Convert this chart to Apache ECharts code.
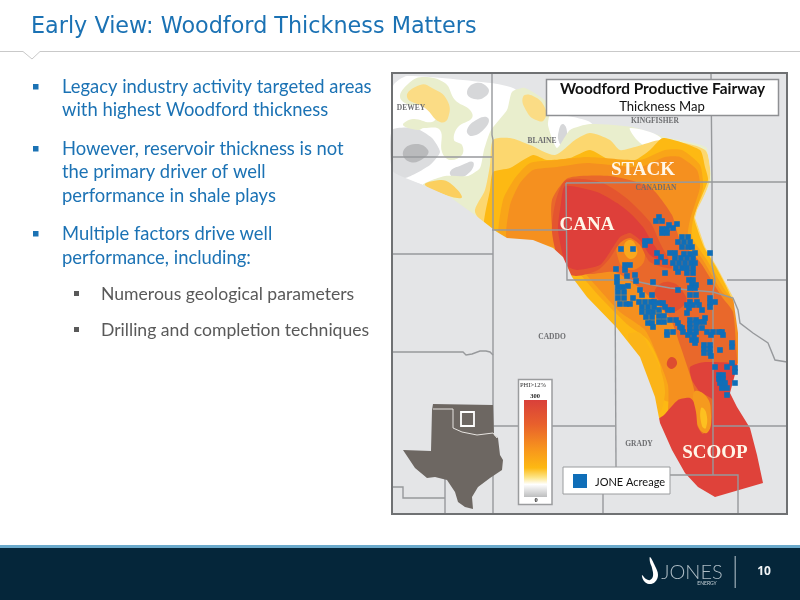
<!DOCTYPE html>
<html>
<head>
<meta charset="utf-8">
<style>html,body{margin:0;padding:0;background:#fff}#main{width:800px;height:600px}</style>
<script src="https://cdn.jsdelivr.net/npm/echarts@6/dist/echarts.min.js"></script>
</head>
<body>
<div id="main"></div>
<script>
// slide text
var titleText = 'Early View: Woodford Thickness Matters';
var bodyLines = ['Legacy industry activity targeted areas', 'with highest Woodford thickness', 'However, reservoir thickness is not', 'the primary driver of well', 'performance in shale plays', 'Multiple factors drive well', 'performance, including:'];
var subLines = ['Numerous geological parameters', 'Drilling and completion techniques'];

// map bands, outer to inner (map coordinates)
var mapFrame = [[392,73],[787,73],[787,514],[392,514]];
var grayWest = [[392,130],[415,128],[432,138],[440,152],[430,165],[405,178],[392,170]];
var white = [[393,86],[407,76],[491,83],[513,88],[547,112],[573,117],[590,122],[600,135],[580,200],[520,225],[497,232],[475,215],[450,197],[423,185],[403,177],[393,158]];
var grayPatchA = [[467,92],[476,83],[488,88],[486,96],[474,99]];
var grayPatchB = [[467,130],[478,119],[488,118],[486,127],[472,136]];
var grayPatchC = [[450,172],[462,165],[473,162],[470,172],[456,178]];
var grayPatchD = [[559,130],[563,124],[567,132],[564,146],[559,142]];
var grayPatchE = [[403,152],[415,144],[428,150],[424,158],[410,162]];
var greenWest = [[400,97],[408,84],[422,77],[445,83],[455,100],[470,110],[472,118],[458,127],[454,140],[462,145],[462,155],[450,160],[442,152],[440,130],[424,128],[418,130],[403,125],[413,119],[432,122],[438,112],[425,104],[410,105]];
var greenMain = [[423,185],[445,176],[468,176],[480,168],[484,150],[491,130],[507,110],[512,92],[525,88],[550,105],[548,125],[557,148],[570,130],[590,124],[632,127],[664,137],[707,148],[715,180],[705,210],[700,218],[712,247],[725,267],[740,297],[745,333],[745,363],[740,393],[745,407],[755,428],[770,483],[715,505],[680,480],[650,423],[648,397],[630,357],[610,328],[580,297],[565,277],[555,257],[545,248],[533,243],[507,243],[497,236],[475,218],[450,200]];
var whiteHole = [[630,128],[660,137],[662,157],[650,150],[637,140]];
var lightWest = [[407,97],[420,85],[432,88],[447,100],[448,118],[440,122],[425,108]];
var lightNorth = [[523,97],[533,96],[545,108],[544,120],[536,120],[527,112]];
var lightSouth = [[425,185],[440,180],[450,183],[462,197],[452,197]];
var lightYellow = [[475,212],[485,190],[490,165],[493,140],[510,138],[530,145],[555,155],[575,140],[590,133],[610,140],[620,150],[635,147],[662,140],[705,150],[710,178],[699,210],[698,218],[708,247],[720,267],[735,297],[741,333],[741,363],[735,393],[741,407],[751,428],[765,483],[715,503],[682,478],[654,423],[650,397],[634,357],[612,328],[582,297],[566,277],[557,257],[547,248],[533,243],[507,241],[497,236]];
var yellow = [[484,226],[490,190],[493,172],[510,168],[533,155],[547,160],[570,158],[590,150],[610,160],[635,160],[650,150],[663,138],[700,150],[705,167],[708,180],[696,210],[694,218],[704,247],[716,267],[731,297],[737,333],[738,363],[731,393],[738,407],[749,428],[762,483],[715,500],[684,476],[656,423],[652,397],[636,357],[614,328],[584,297],[568,277],[558,257],[548,250],[533,244],[507,242],[497,236]];
var amber = [[500,240],[503,200],[515,178],[530,163],[557,160],[587,157],[640,160],[665,150],[682,150],[700,165],[703,187],[693,220],[692,237],[707,260],[727,293],[736,303],[737,345],[690,400],[664,400],[660,365],[648,340],[628,325],[600,297],[578,272],[552,249]];
var orange = [[507,240],[510,205],[520,183],[533,170],[557,167],[587,163],[640,167],[665,157],[680,157],[697,170],[700,187],[690,220],[688,237],[703,260],[723,293],[736,303],[740,345],[740,365],[734,392],[740,407],[752,428],[768,483],[715,503],[682,478],[664,428],[668,410],[668,385],[657,355],[645,330],[620,312],[598,288],[582,270],[566,254],[553,247],[533,242]];
var redOrange = [[553,232],[552,200],[568,178],[610,176],[650,187],[672,215],[680,240],[700,262],[722,297],[733,312],[736,345],[737,365],[732,392],[740,407],[752,428],[770,483],[715,505],[680,480],[670,440],[690,425],[695,395],[690,375],[680,345],[670,318],[640,288],[615,272],[590,274],[570,270]];
var redHalo = [[556,200],[566,180],[600,182],[625,197],[650,222],[660,243],[672,268],[650,262],[640,245],[630,238],[620,243],[610,258],[598,270],[576,276],[562,270],[552,232]];
var red = [[565,186],[597,192],[617,203],[630,213],[643,227],[652,242],[665,262],[650,255],[640,240],[630,233],[620,237],[610,252],[600,265],[577,270],[566,265],[558,230],[561,203]];
var orangeBump = [[618,242],[628,234],[638,240],[645,255],[638,268],[625,268],[618,258]];
var yellowBump = [[624,246],[630,240],[636,246],[636,256],[628,258]];
var redMid = [[655,290],[670,282],[685,295],[684,305],[668,312],[660,302]];
var yellowStrip = [[640,333],[648,345],[660,368],[665,392],[660,412],[652,397],[636,357],[628,335]];
var redEast = [[690,367],[705,362],[738,365],[740,392],[742,407],[755,428],[772,490],[715,506],[680,480],[652,425],[664,415],[678,400],[690,398],[698,408],[697,425],[703,434],[711,422],[713,400],[700,392],[692,380]];
var flare = [[694,392],[706,396],[711,415],[708,432],[700,430],[696,412]];
var flareCore = [[701,408],[706,412],[706,428],[702,426]];
var redSpot = [[667,362],[672,357],[677,362],[674,368],[669,368]];
// map background again, outside the fairway edge
var maskSouth = [[392,172],[403,177],[423,185],[450,197],[475,215],[497,232],[507,238],[533,240],[553,248],[563,257],[572,277],[587,297],[617,328],[640,357],[655,397],[660,423],[672,450],[685,473],[698,487],[715,497],[715,514],[392,514]];
var maskEast = [[707,148],[712,180],[697,210],[695,218],[705,247],[717,267],[733,297],[738,333],[738,363],[730,393],[737,407],[750,428],[757,455],[763,483],[715,497],[715,514],[787,514],[787,148]];

// blue JONE acreage cells (map coordinates)
var acreageCells = [[659,217],[656,221],[662,221],[669,225],[677,224],[662,229],[667,229],[673,228],[662,233],[667,233],[645,241],[650,241],[645,245],[621,249],[633,249],
[682,237],[688,237],[678,242],[684,242],[690,242],[682,247],[688,247],[692,247],[657,253],[670,253],[675,253],[684,254],[690,254],[695,253],[710,253],
[661,257],[675,258],[681,258],[687,258],[693,258],[657,262],[665,262],[673,263],[679,263],[685,263],[691,263],[695,263],[676,268],[682,268],[687,268],[693,268],[616,269],[625,265],[630,265],
[665,273],[678,272],[687,273],[693,273],[617,277],[625,270],[627,276],[635,275],[636,281],[617,282],[653,282],[689,280],[693,280],[710,282],
[618,287],[623,287],[628,286],[640,290],[678,290],[692,285],[696,285],[690,288],[695,288],[618,292],[624,292],[642,295],[652,295],[690,295],[696,295],[710,298],
[618,298],[624,298],[633,298],[639,302],[645,302],[651,302],[654,302],[690,302],[697,302],[710,303],[715,302],[620,304],[626,304],[630,304],[642,307],[648,307],[654,307],[659,303],[663,303],[665,307],[687,305],[693,305],[699,305],[710,307],
[642,312],[648,312],[653,312],[659,310],[668,310],[672,310],[687,313],[702,310],[689,308],[646,317],[652,317],[659,316],[664,316],[690,320],[696,320],[705,318],[670,320],[676,320],
[648,323],[652,323],[659,322],[664,322],[678,323],[690,324],[699,322],[704,322],[653,327],[682,328],[690,328],[696,328],[702,328],[667,332],[673,332],[707,332],[713,332],[719,332],
[680,327],[696,323],[690,332],[696,332],[667,335],[683,332],[688,335],[694,335],[692,340],[696,340],[695,343],[711,335],[722,332],[723,335],[704,345],[710,345],[732,343],[704,349],[710,349],[720,350],[732,347],[704,353],[710,353],[711,356],
[715,367],[732,363],[727,367],[735,368],[735,372],[719,375],[723,375],[719,379],[723,379],[735,383],[720,383],[725,383],[722,388],[727,388],[727,395]];

// county lines and river
var countyLines = [
  [[492,73],[492,135],[493,140],[493,514]],
  [[392,157],[492,157]],
  [[392,254],[493,254]],
  [[392,352],[463,352],[466,355],[472,354],[480,351],[486,351],[490,352],[493,355]],
  [[492,230],[567,230]],
  [[566,183],[711,182],[787,182]],
  [[566,183],[567,280],[615,280],[630,280]],
  [[711,73],[712,182],[712,265],[715,280],[713,292],[713,475]],
  [[727,280],[787,280]],
  [[630,280],[653,285],[670,288],[690,290],[713,292],[733,298],[738,310],[740,323],[753,333],[768,343],[775,360],[787,362]],
  [[615,280],[616,467]],
  [[493,426],[615,426]],
  [[713,426],[787,426]],
  [[616,475],[738,475],[738,514]],
  [[603,494],[603,514]],
  [[445,467],[445,514]],
  [[392,487],[403,487],[403,498],[445,498]]
];

var texas = [[433,404],[493,405],[494,435],[498,438],[500,455],[503,460],[502,470],[490,478],[478,487],[472,497],[473,509],[465,507],[458,502],[455,492],[447,480],[435,477],[427,478],[415,468],[403,450],[431,451],[432,410]];
var oklahomaBorder = [[433,409],[453,409],[453,428],[462,432],[477,435],[493,433],[497,438]];
var logoHook = [[650,557],[655,566],[658,575],[655,582],[649,584],[644,581],[642,575],[646,579],[650,580],[653,576],[652,568],[650,562]];

var countyNames = ['DEWEY', 'BLAINE', 'KINGFISHER', 'CANADIAN', 'CADDO', 'GRADY'];
var playNames = ['STACK', 'CANA', 'SCOOP'];

var MAPBG = '#e4e5e7';
var bands = [
  [mapFrame, MAPBG, 0], [white, '#ffffff', 0.2], [grayWest, '#dcdddf', 0.2],
  [grayPatchA, '#d6d7d9', 0.5], [grayPatchB, '#d6d7d9', 0.5], [grayPatchC, '#d6d7d9', 0.5], [grayPatchD, '#d6d7d9', 0.5], [grayPatchE, '#b9babc', 0.5],
  [greenMain, '#e9eecd', 0.2], [greenWest, '#e9eecd', 0.4], [whiteHole, '#ffffff', 0.3],
  [lightWest, '#fbdc85', 0.5], [lightNorth, '#fbdc85', 0.5], [lightSouth, '#fbcf5e', 0.4],
  [lightYellow, '#fcd76f', 0.25], [yellow, '#fdb913', 0.2], [amber, '#f9a518', 0.2], [orange, '#f5901f', 0.2],
  [yellowStrip, '#fbb418', 0.3], [redOrange, '#e9682b', 0.2], [orangeBump, '#f2811f', 0.5], [yellowBump, '#f9a81d', 0.5],
  [redMid, '#e2502f', 0.5], [redHalo, '#e4552f', 0.25], [red, '#de3f3a', 0.2], [redEast, '#df423a', 0.2],
  [flare, '#f59a1e', 0.5], [flareCore, '#fdc020', 0.5], [redSpot, '#dd4c30', 0.5],
  [maskSouth, MAPBG, 0], [maskEast, MAPBG, 0]
];

function renderBand(params, api) {
  var band = bands[api.value(0)];
  var pts = band[0].map(function (p) { return api.coord(p); });
  return {
    type: 'polygon',
    shape: { points: pts, smooth: band[2] },
    style: { fill: band[1] },
    silent: true
  };
}
function renderLine(params, api) {
  var pts = countyLines[api.value(0)].map(function (p) { return api.coord(p); });
  return {
    type: 'polyline',
    shape: { points: pts },
    style: { fill: null, stroke: '#97999c', lineWidth: 1.4 },
    silent: true
  };
}
function renderState(params, api) {
  return {
    type: 'group',
    children: [{
      type: 'polygon',
      shape: { points: texas.map(function (p) { return api.coord(p); }) },
      style: { fill: '#6d6762' }
    }, {
      type: 'polyline',
      shape: { points: oklahomaBorder.map(function (p) { return api.coord(p); }) },
      style: { fill: null, stroke: '#e6e3df', lineWidth: 1 }
    }, {
      type: 'rect',
      shape: { x: api.coord([461, 412])[0], y: api.coord([461, 412])[1], width: 13, height: 14 },
      style: { fill: null, stroke: '#fff', lineWidth: 1.8 }
    }]
  };
}

function txt(x, y, text, font, color, align) {
  return { type: 'text', z: 20, x: x, y: y, style: { text: text, font: font, fill: color, align: align || 'left', verticalAlign: 'middle' }, silent: true };
}
function box(x, y, w, h, fill, stroke, lw) {
  return { type: 'rect', z: 10, shape: { x: x, y: y, width: w, height: h }, style: { fill: fill, stroke: stroke, lineWidth: lw || 0 }, silent: true };
}

var BLUE = '#1b72b4';
var bodyY = [87, 110, 149, 172, 196, 234, 258];
var subY = [294, 330];
var countyX = [411, 542, 655, 656, 552, 639];
var countyY = [108, 141, 121, 188, 337, 444];
var playX = [643, 587, 715];
var playY = [170, 225, 453];

var graphics = [
  // header rule with notch
  { type: 'polyline', z: 5, shape: { points: [[0,51.5],[23,51.5],[32,59],[40,51.5],[800,51.5]] }, style: { fill: '#fff', stroke: '#c9c9c9', lineWidth: 1 } },
  txt(31, 27.5, titleText, '22.3px "DejaVu Sans"', BLUE),
  // footer
  box(0, 548, 800, 52, '#05263a'),
  box(0, 545, 800, 3, '#6aa9cb'),
  box(734.5, 556, 1.5, 32, '#7f929e'),
  { type: 'polygon', z: 20, shape: { points: logoHook, smooth: 0.4 }, style: { fill: '#ffffff' } },
  txt(692, 573, 'JONES', '300 20px Lato', '#aebcc5', 'center'),
  txt(707, 583.5, 'ENERGY', '5px Lato', '#c8d2d8', 'center'),
  txt(764, 572, '10', 'bold 12px "Open Sans"', '#f2f5f7', 'center'),
  // map frame
  { type: 'rect', z: 9, shape: { x: 392, y: 73, width: 395, height: 441 }, style: { fill: null, stroke: '#6f7173', lineWidth: 2 }, silent: true },
  // fairway title box
  box(546.5, 79.5, 232, 36, '#fff', '#8e9093', 1.5),
  txt(662.5, 89, 'Woodford Productive Fairway', 'bold 15.4px Lato', '#111', 'center'),
  txt(662, 107, 'Thickness Map', '13.1px Lato', '#111', 'center'),
  // thickness scale
  box(518.5, 379.5, 33.5, 125, '#fff', '#9a9c9e', 1.5),
  { type: 'rect', z: 11, shape: { x: 524, y: 400, width: 23, height: 97 }, style: { fill: { type: 'linear', x: 0, y: 0, x2: 0, y2: 1, colorStops: [{ offset: 0, color: '#d9403a' }, { offset: 0.25, color: '#e8602c' }, { offset: 0.5, color: '#f7941d' }, { offset: 0.7, color: '#fdb913' }, { offset: 0.8, color: '#fde68a' }, { offset: 0.87, color: '#ffffff' }, { offset: 1, color: '#bdbebf' }] } } },
  txt(533, 385, 'PHI>12%', '6.5px "Liberation Serif"', '#333', 'center'),
  txt(535, 396, '300', 'bold 6.5px "Liberation Serif"', '#222', 'center'),
  txt(536, 500, '0', 'bold 6.5px "Liberation Serif"', '#222', 'center'),
  // acreage legend
  box(563, 467, 107, 27, '#fff', '#9a9c9e', 1),
  { type: 'rect', z: 11, shape: { x: 573, y: 474, width: 14, height: 14 }, style: { fill: '#0f6eb8' } },
  txt(595, 482, 'JONE Acreage', '11px Lato', '#111')
];
bodyLines.forEach(function (t, i) { graphics.push(txt(62, bodyY[i], t, '18.4px Lato', BLUE)); });
subLines.forEach(function (t, i) { graphics.push(txt(101, subY[i], t, '17.6px Lato', '#595959')); });
[87, 149, 234].forEach(function (y) { graphics.push(box(33, y - 3, 5.5, 5.5, BLUE)); });
subY.forEach(function (y) { graphics.push(box(74, y - 3, 5, 5, '#595959')); });
countyNames.forEach(function (t, i) { graphics.push(txt(countyX[i], countyY[i], t, 'bold 7.5px "Liberation Serif"', '#6d6e71', 'center')); });
playNames.forEach(function (t, i) { graphics.push(txt(playX[i], playY[i], t, 'bold 19px "Liberation Serif"', '#fff6e8', 'center')); });

var chart = echarts.init(document.getElementById('main'));
chart.setOption({
  animation: false,
  backgroundColor: '#ffffff',
  grid: { left: 0, right: 0, top: 0, bottom: 0 },
  xAxis: { type: 'value', min: 0, max: 800, show: false },
  yAxis: { type: 'value', min: 0, max: 600, inverse: true, show: false },
  series: [{
    type: 'custom', z: 2, clip: false, renderItem: renderBand,
    data: bands.map(function (b, i) { return [i]; })
  }, {
    type: 'custom', z: 3, clip: false, renderItem: renderLine,
    data: countyLines.map(function (l, i) { return [i]; })
  }, {
    type: 'custom', z: 3, clip: false, renderItem: renderState, data: [[0]]
  }, {
    type: 'scatter', z: 4, symbol: 'rect', symbolSize: 5.6, silent: true,
    itemStyle: { color: '#0f6eb8', opacity: 1 },
    data: acreageCells
  }],
  graphic: { elements: graphics }
});
</script>
</body>
</html>
